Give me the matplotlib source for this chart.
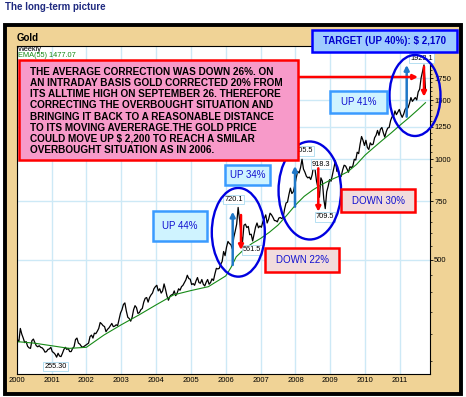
import numpy as np
import matplotlib.pyplot as plt
from matplotlib.patches import Rectangle, Ellipse, FancyArrowPatch
from matplotlib.ticker import FixedLocator, NullFormatter

plt.rcParams['font.family'] = ['Liberation Sans', 'DejaVu Sans']

# gold, semi-monthly closes (USD/oz)
gold_2000 = [289, 285, 312, 300, 292, 283, 285, 276, 273, 272, 287, 290,
             283, 277, 275, 277, 274, 273, 270, 265, 266, 270, 271, 274]
gold_2001 = [266, 264, 261, 256, 263, 258, 257, 263, 270, 274, 270, 272,
             266, 266, 272, 275, 289, 292, 282, 280, 276, 274, 276, 278]
gold_2002 = [280, 282, 295, 298, 292, 302, 301, 306, 312, 325, 322, 318,
             316, 305, 310, 313, 318, 323, 316, 317, 320, 318, 332, 347]
gold_2003 = [355, 368, 372, 352, 337, 334, 328, 337, 355, 365, 360, 346,
             348, 355, 358, 374, 384, 386, 374, 386, 393, 398, 410, 416]
gold_2004 = [420, 404, 410, 398, 404, 424, 408, 390, 379, 389, 393, 394,
             404, 391, 398, 410, 406, 416, 420, 428, 436, 450, 440, 438]
gold_2005 = [422, 425, 420, 433, 443, 428, 426, 437, 423, 418, 429, 437,
             423, 428, 439, 434, 454, 472, 470, 472, 485, 495, 530, 515]
gold_2006 = [546, 568, 560, 556, 540, 584, 610, 640, 718, 660, 595, 565,
             635, 640, 625, 630, 595, 597, 570, 598, 627, 645, 624, 632]
gold_2007 = [626, 650, 665, 682, 645, 662, 690, 682, 670, 656, 655, 650,
             667, 670, 665, 670, 710, 740, 745, 785, 820, 790, 800, 835]
gold_2008 = [880, 920, 910, 945, 1000, 935, 915, 890, 880, 885, 870, 900,
             960, 930, 860, 820, 770, 880, 860, 760, 712, 800, 830, 870]
gold_2009 = [860, 900, 945, 990, 920, 930, 880, 890, 930, 960, 955, 935,
             915, 950, 945, 955, 1000, 995, 1050, 1040, 1110, 1170, 1140, 1100]
gold_2010 = [1140, 1085, 1070, 1120, 1105, 1110, 1160, 1180, 1220, 1180, 1230, 1245,
             1200, 1165, 1210, 1240, 1245, 1305, 1340, 1340, 1395, 1360, 1385, 1410]
gold_2011 = [1365, 1335, 1365, 1410, 1430, 1425, 1470, 1530, 1490, 1510, 1530, 1505,
             1590, 1620, 1750, 1830, 1915, 1630]

# EMA(55)
ema_years = [2000.0, 2000.5, 2001.0, 2001.5, 2002.0, 2002.5, 2003.0, 2003.5,
             2004.0, 2004.5, 2005.0, 2005.5, 2006.0, 2006.15, 2006.3, 2006.5,
             2006.75, 2007.0, 2007.25, 2007.5, 2007.75, 2008.0, 2008.25, 2008.5,
             2008.75, 2009.0, 2009.25, 2009.5, 2009.75, 2010.0, 2010.25, 2010.5,
             2010.75, 2011.0, 2011.25, 2011.5, 2011.73]
ema_values = [285, 282, 277, 272, 274, 298, 320, 342,
              367, 393, 405, 416, 448, 475, 511, 535,
              560, 580, 605, 636, 680, 730, 775, 810,
              840, 867, 890, 918, 965, 1030, 1085, 1142,
              1200, 1265, 1330, 1403, 1477]

year_ticks = list(range(2000, 2012))
price_ticks = [500, 750, 1000, 1250, 1500, 1750]
minor_ticks = [250, 300, 350, 400, 450, 550, 600, 650, 700, 800, 850, 900, 950,
               1050, 1100, 1150, 1200, 1300, 1350, 1400, 1450, 1550, 1600, 1650,
               1700, 1800, 1850, 1900, 1950, 2000, 2050, 2100, 2150]

note_lines = [
    "THE AVERAGE CORRECTION WAS DOWN 26%. ON",
    "AN INTRADAY BASIS GOLD CORRECTED 20% FROM",
    "ITS ALLTIME HIGH ON SEPTEMBER 26. THEREFORE",
    "CORRECTING THE OVERBOUGHT SITUATION AND",
    "BRINGING IT BACK TO A REASONABLE DISTANCE",
    "TO ITS MOVING AVERERAGE.THE GOLD PRICE",
    "COULD MOVE UP $ 2,200 TO REACH A SMILAR",
    "OVERBOUGHT SITUATION AS IN 2006.",
]

gold = np.array(gold_2000 + gold_2001 + gold_2002 + gold_2003 + gold_2004 + gold_2005 +
                gold_2006 + gold_2007 + gold_2008 + gold_2009 + gold_2010 + gold_2011)
gold_years = 2000 + (np.arange(len(gold)) + 0.5) / 24

W, H = 466, 397
fig = plt.figure(figsize=(W / 100, H / 100), dpi=100)


def fx(px):
    return px / W


def fy(py):
    return 1 - py / H


# tan frame with black border
fig.add_artist(Rectangle((fx(5), fy(393.5)), fx(461) - fx(5), (393.5 - 25) / H,
                         transform=fig.transFigure, fc='#F0D396', ec='black',
                         lw=2.8, zorder=-1))

ax = fig.add_axes([fx(16.7), fy(374), fx(430) - fx(16.7), (374 - 46) / H])
ax.set_facecolor('white')
ax.plot(gold_years, gold, color='black', lw=0.9)
ax.plot(ema_years, ema_values, color='#168a16', lw=0.8)

ax.set_yscale('log')
ax.set_ylim(228, 2182)
ax.set_xlim(2000, 2011.86)

ax.yaxis.tick_right()
ax.set_yticks(price_ticks)
ax.set_yticklabels([str(p) for p in price_ticks])
ax.yaxis.set_minor_locator(FixedLocator(minor_ticks))
ax.yaxis.set_minor_formatter(NullFormatter())
ax.tick_params(axis='y', which='major', length=2.2, width=0.6, pad=0.8, labelsize=5.5)
ax.tick_params(axis='y', which='minor', length=1.3, width=0.5)
ax.set_xticks(year_ticks)
ax.set_xticklabels([str(y) for y in year_ticks])
ax.tick_params(axis='x', length=0, pad=2.2, labelsize=5.5)

ax.grid(True, which='major', color='#cde9f6', lw=1.0)
ax.set_axisbelow(True)
for s in ax.spines.values():
    s.set_color('black')
    s.set_linewidth(0.8)

# header texts
fig.text(fx(5), fy(2.5), 'The long-term picture', color='#1f2a80', fontsize=7,
         fontweight='bold', va='top')
fig.text(fx(16.5), fy(40.7), 'Gold', fontsize=7, fontweight='bold', va='baseline')
fig.text(fx(17.5), fy(49.3), 'Weekly', fontsize=5.3, va='center')
fig.text(fx(17.5), fy(55.2), 'EMA(55) 1477.07', fontsize=5.3, va='center', color='#168a16')


def price_label(px, py, txt):
    fig.text(fx(px), fy(py), txt, fontsize=5.3, ha='center', va='center', zorder=3,
             bbox=dict(boxstyle='square,pad=0.15', fc='white', ec='#a9daf0', lw=0.6))


price_label(55.3, 366.7, '255.30')
price_label(233.5, 199.7, '720.1')
price_label(252, 250, '561.5')
price_label(302, 151, '1005.5')
price_label(321, 164, '918.3')
price_label(325, 217, '709.5')
price_label(421.7, 58, '1923.1')


def arrow(x0, y0, x1, y1, color):
    fig.add_artist(FancyArrowPatch((fx(x0), fy(y0)), (fx(x1), fy(y1)),
                                   transform=fig.transFigure, arrowstyle='-|>',
                                   mutation_scale=7, lw=1.8, color=color,
                                   shrinkA=0, shrinkB=0, zorder=4))


blue = '#1f78c8'
red = '#ff0000'
arrow(232.7, 265, 232.7, 211.7, blue)
arrow(295, 206.7, 295, 166, blue)
arrow(406.7, 116.7, 406.7, 65, blue)
arrow(241, 215, 241, 250, red)
arrow(318.3, 168.3, 318.3, 211.7, red)
arrow(424, 66.7, 424, 96.7, red)
arrow(296, 77, 418, 77, red)


def ellipse(cx, cy, w, h):
    fig.add_artist(Ellipse((fx(cx), fy(cy)), w / W, h / H, transform=fig.transFigure,
                           fill=False, ec='#0000e0', lw=1.7, zorder=4))


ellipse(238.3, 232.3, 53, 88.7)
ellipse(309.8, 190.5, 62.5, 98)
ellipse(415, 95.5, 51, 81)


def box(x0, y0, x1, y1, fc, ec, txt=None, color='#1010d0', size=7, weight='normal'):
    fig.add_artist(Rectangle((fx(x0), fy(y1)), (x1 - x0) / W, (y1 - y0) / H,
                             transform=fig.transFigure, fc=fc, ec=ec, lw=1.8, zorder=5))
    if txt:
        fig.text(fx((x0 + x1) / 2), fy((y0 + y1) / 2), txt, color=color, fontsize=size,
                 fontweight=weight, ha='center', va='center', zorder=6, parse_math=False)


up_fc, up_ec = '#cff3ff', '#3a9bff'
down_fc = '#f1dcdc'
box(153, 211, 207, 241, up_fc, up_ec, 'UP 44%')
box(225, 165, 270, 185, up_fc, up_ec, 'UP 34%')
box(330, 91, 386.7, 112.7, up_fc, up_ec, 'UP 41%')
box(265, 248.3, 339.3, 271.7, down_fc, red, 'DOWN 22%')
box(341, 189.3, 415, 211.7, down_fc, red, 'DOWN 30%')
box(312, 30, 457, 52, '#9ecbff', '#0000ff', 'TARGET (UP 40%): $ 2,170',
    color='#0000cc', size=7, weight='bold')

# the pink note
box(19, 60, 298, 160, '#f79ac9', red)
for i, line in enumerate(note_lines):
    fig.text(fx(30), fy(71.7 + i * 11.2), line, fontsize=7.2, fontweight='bold',
             va='center', zorder=6, parse_math=False)

fig.savefig('out.png', dpi=100)
